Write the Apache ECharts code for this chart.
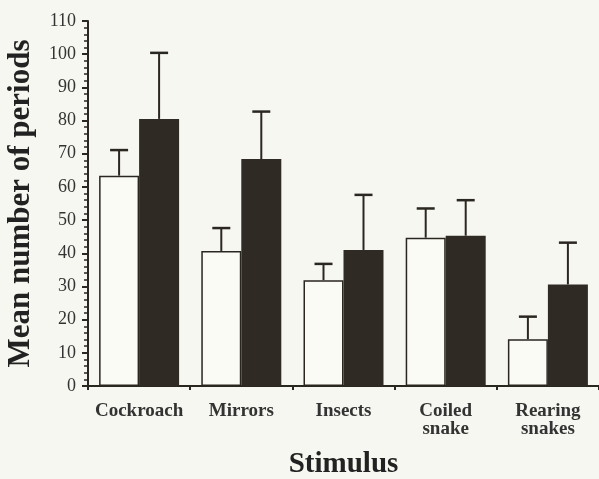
<!DOCTYPE html>
<html>
<head>
<meta charset="utf-8">
<script src="https://cdn.jsdelivr.net/npm/echarts@6/dist/echarts.min.js"></script>
<style>
  html, body { margin: 0; padding: 0; background: #f7f7f1; }
  #main { width: 599px; height: 479px; }
</style>
</head>
<body>
<div id="main"></div>
<script>
    // stimulus categories
    var categories = ['Cockroach', 'Mirrors', 'Insects', 'Coiled\nsnake', 'Rearing\nsnakes'];
    // open bars and their error bar tops
    var openMeans = [63.4, 40.7, 31.9, 44.7, 14.1];
    var openUpper = [71.1, 47.6, 36.8, 53.5, 20.9];
    // filled bars and their error bar tops
    var filledMeans = [80.5, 68.4, 41.0, 45.3, 30.6];
    var filledUpper = [100.4, 82.7, 57.6, 56.0, 43.2];

    var ink = '#2a2620';
    var barW = 40;

    // error bar drawn above each bar, shifted to the bar's centre
    function errorBar(shift) {
        return function (params, api) {
            var i = api.value(0);
            var base = api.coord([i, api.value(1)]);
            var top = api.coord([i, api.value(2)]);
            var x = base[0] + shift;
            return {
                type: 'group',
                children: [
                    {type: 'line', shape: {x1: x, y1: base[1], x2: x, y2: top[1]},
                        style: {stroke: ink, lineWidth: 2}},
                    {type: 'line', shape: {x1: x - 9, y1: top[1], x2: x + 9, y2: top[1]},
                        style: {stroke: ink, lineWidth: 2.5}}
                ]
            };
        };
    }

    var openErr = openMeans.map(function (v, i) { return [i, v, openUpper[i]]; });
    var filledErr = filledMeans.map(function (v, i) { return [i, v, filledUpper[i]]; });

    var option = {
        backgroundColor: '#f7f7f1',
        animation: false,
        grid: {
            left: 88,
            right: 0,
            top: 21,
            bottom: 93,
            containLabel: false,
            outerBoundsMode: 'none'
        },
        xAxis: {
            type: 'category',
            data: categories,
            name: 'Stimulus',
            nameLocation: 'middle',
            nameGap: 64,
            nameTextStyle: {fontFamily: 'Liberation Serif', fontWeight: 'bold', fontSize: 29, color: '#222'},
            axisLine: {lineStyle: {color: ink, width: 2}},
            axisTick: {show: true, length: 4, lineStyle: {color: ink, width: 2}},
            axisLabel: {
                fontFamily: 'Liberation Serif', fontWeight: 'bold', fontSize: 19, color: '#333',
                margin: 16, lineHeight: 18, interval: 0
            }
        },
        yAxis: {
            type: 'value',
            min: 0,
            max: 110,
            interval: 10,
            name: 'Mean number of periods',
            nameLocation: 'middle',
            nameGap: 52,
            nameTextStyle: {fontFamily: 'Liberation Serif', fontWeight: 'bold', fontSize: 31, color: '#222', padding: [0, 0, 0, 0]},
            axisLine: {show: true, lineStyle: {color: ink, width: 2}},
            axisTick: {show: true, length: 6, lineStyle: {color: ink, width: 2}},
            minorTick: {show: true, splitNumber: 5, length: 4, lineStyle: {color: ink, width: 1.5}},
            splitLine: {show: false},
            axisLabel: {fontFamily: 'Liberation Serif', fontSize: 18, color: '#333', margin: 12}
        },
        series: [
            {
                name: 'open',
                type: 'bar',
                data: openMeans,
                barWidth: barW,
                barGap: '0%',
                itemStyle: {color: '#fbfbf6', borderColor: ink, borderWidth: 1.5}
            },
            {
                name: 'filled',
                type: 'bar',
                data: filledMeans,
                barWidth: barW,
                barGap: '0%',
                itemStyle: {color: '#2f2a23'}
            },
            {
                type: 'custom',
                renderItem: errorBar(-barW / 2),
                data: openErr,
                encode: {x: 0, y: [1, 2]},
                z: 3
            },
            {
                type: 'custom',
                renderItem: errorBar(barW / 2),
                data: filledErr,
                encode: {x: 0, y: [1, 2]},
                z: 3
            }
        ]
    };
    var myChart = echarts.init(document.getElementById('main'));
    myChart.setOption(option);
</script>
</body>
</html>
